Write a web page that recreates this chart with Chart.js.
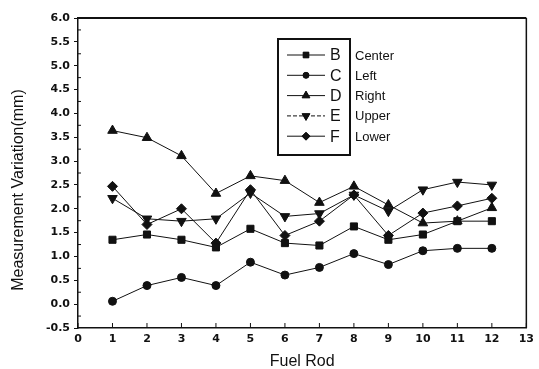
<!DOCTYPE html>
<html lang="en">
<head>
<meta charset="UTF-8">
<script src="https://cdn.jsdelivr.net/npm/chart.js"></script>
<title>Measurement Variation</title>
<style>
  body { margin: 0; background: #fff; }
</style>
</head>
<body>
<canvas id="chart" width="539" height="369"></canvas>
<script>
// data
const fuelRods = [1, 2, 3, 4, 5, 6, 7, 8, 9, 10, 11, 12];
const seriesNames = ['B', 'C', 'D', 'E', 'F'];
const positions = ['Center', 'Left', 'Right', 'Upper', 'Lower'];
const centerB = [1.35, 1.46, 1.35, 1.19, 1.58, 1.28, 1.23, 1.63, 1.35, 1.46, 1.74, 1.74];
const leftC   = [0.06, 0.39, 0.56, 0.39, 0.88, 0.61, 0.77, 1.06, 0.83, 1.12, 1.17, 1.17];
const rightD  = [3.64, 3.49, 3.11, 2.32, 2.69, 2.59, 2.13, 2.47, 2.08, 1.70, 1.74, 2.02];
const upperE  = [2.22, 1.79, 1.74, 1.79, 2.33, 1.84, 1.90, 2.29, 1.95, 2.40, 2.56, 2.50];
const lowerF  = [2.47, 1.67, 2.00, 1.28, 2.40, 1.44, 1.74, 2.29, 1.44, 1.91, 2.06, 2.22];

const yTicksMin = -0.5, yTicksMax = 6.0, yStep = 0.5;
const xTicksMin = 0, xTicksMax = 13;

const allSeries = [centerB, leftC, rightD, upperE, lowerF];
const markers = [
  { style: 'rect', radius: 5, rotation: 0 },
  { style: 'circle', radius: 4, rotation: 0 },
  { style: 'triangle', radius: 5.5, rotation: 0 },
  { style: 'triangle', radius: 5.5, rotation: 180 },
  { style: 'rectRot', radius: 5, rotation: 0 }
];
const ink = '#111';

const datasets = allSeries.map((vals, i) => ({
  label: seriesNames[i] + ' ' + positions[i],
  data: fuelRods.map((r, j) => ({ x: r, y: vals[j] })),
  borderColor: ink,
  backgroundColor: ink,
  borderWidth: 1,
  pointStyle: markers[i].style,
  pointRadius: markers[i].radius,
  pointRotation: markers[i].rotation,
  pointBackgroundColor: ink,
  pointBorderColor: ink,
  pointBorderWidth: 1,
  tension: 0
}));

// frame, inner ticks, axis titles and the boxed legend
const extras = {
  id: 'extras',
  afterDraw(chart) {
    const ctx = chart.ctx;
    const a = chart.chartArea;
    const xs = chart.scales.x, ys = chart.scales.y;
    ctx.save();
    ctx.strokeStyle = ink;

    // top and right of frame
    ctx.lineWidth = 2;
    ctx.beginPath();
    ctx.moveTo(a.left, a.top);
    ctx.lineTo(a.right, a.top);
    ctx.stroke();
    ctx.lineWidth = 1.5;
    ctx.beginPath();
    ctx.moveTo(a.right, a.top);
    ctx.lineTo(a.right, a.bottom);
    ctx.stroke();

    // x ticks pointing inwards
    ctx.lineWidth = 1;
    for (let v = xTicksMin; v <= xTicksMax; v++) {
      const px = xs.getPixelForValue(v);
      ctx.beginPath();
      ctx.moveTo(px, a.bottom);
      ctx.lineTo(px, a.bottom - 5);
      ctx.stroke();
    }
    // minor y ticks
    for (let v = yTicksMin + yStep / 2; v < yTicksMax; v += yStep) {
      const py = ys.getPixelForValue(v);
      ctx.beginPath();
      ctx.moveTo(a.left, py);
      ctx.lineTo(a.left + 3, py);
      ctx.stroke();
    }

    // axis titles
    ctx.fillStyle = ink;
    ctx.font = '16px "Liberation Sans", Arial, sans-serif';
    ctx.textAlign = 'center';
    ctx.textBaseline = 'middle';
    ctx.fillText('Fuel Rod', (a.left + a.right) / 2, 362);
    ctx.save();
    ctx.translate(19, 190);
    ctx.rotate(-Math.PI / 2);
    ctx.fillText('Measurement Variation(mm)', 0, 0);
    ctx.restore();

    // legend box
    ctx.lineWidth = 2;
    ctx.strokeRect(278, 39, 72, 116);
    ctx.lineWidth = 1;
    seriesNames.forEach((name, i) => {
      const y = 55 + i * 20.3;
      ctx.beginPath();
      if (i === 3) ctx.setLineDash([4, 2]);
      ctx.moveTo(287, y);
      ctx.lineTo(325, y);
      ctx.stroke();
      ctx.setLineDash([]);
      Chart.helpers.drawPoint(ctx, {
        pointStyle: markers[i].style,
        radius: markers[i].radius - 1,
        rotation: markers[i].rotation,
        borderWidth: 1
      }, 306, y);
      ctx.fill();
      ctx.textAlign = 'left';
      ctx.font = '16px "Liberation Sans", Arial, sans-serif';
      ctx.fillText(name, 330, y + 1);
      ctx.font = '13px "Liberation Sans", Arial, sans-serif';
      ctx.fillText(positions[i], 355, y + 1);
    });
    ctx.restore();
  }
};

new Chart(document.getElementById('chart'), {
  type: 'line',
  data: { datasets: datasets },
  options: {
    responsive: false,
    animation: false,
    devicePixelRatio: 1,
    layout: { padding: { left: 0, top: 18, right: 10, bottom: 0 } },
    plugins: { legend: { display: false }, tooltip: { enabled: false } },
    scales: {
      x: {
        type: 'linear',
        min: xTicksMin,
        max: xTicksMax,
        afterFit(scale) { scale.height = 41; },
        ticks: {
          stepSize: 1,
          padding: 5,
          color: ink,
          font: { family: '"DejaVu Sans"', size: 11, weight: 'bold' }
        },
        grid: { drawOnChartArea: false, drawTicks: false },
        border: { display: true, color: ink, width: 1.5 }
      },
      y: {
        min: yTicksMin,
        max: yTicksMax,
        afterFit(scale) { scale.width = 78; },
        ticks: {
          stepSize: yStep,
          padding: 4,
          color: ink,
          font: { family: '"DejaVu Sans"', size: 11, weight: 'bold' },
          callback: v => v.toFixed(1)
        },
        grid: { drawOnChartArea: false, drawTicks: true, tickLength: 4, color: ink },
        border: { display: true, color: ink, width: 1.5 }
      }
    }
  },
  plugins: [extras]
});
</script>
</body>
</html>
